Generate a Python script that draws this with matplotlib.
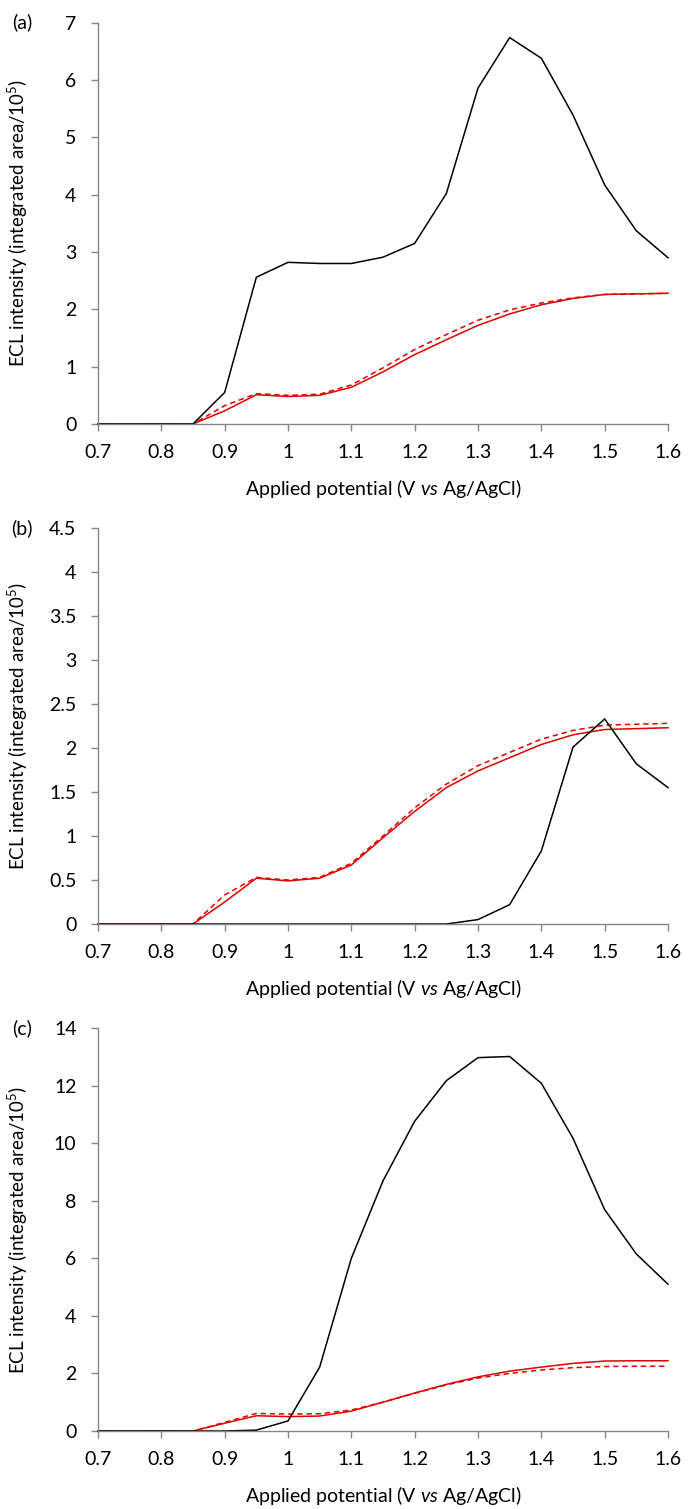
import numpy as np
import matplotlib.pyplot as plt
from matplotlib.ticker import FuncFormatter

plt.rcParams['font.family'] = ['Lato', 'DejaVu Sans']
plt.rcParams['mathtext.fontset'] = 'custom'
plt.rcParams['mathtext.rm'] = 'Lato'
plt.rcParams['mathtext.it'] = 'Lato:italic'

# applied potential (V vs Ag/AgCl)
potential = [0.70, 0.75, 0.80, 0.85, 0.90, 0.95, 1.00, 1.05, 1.10, 1.15,
             1.20, 1.25, 1.30, 1.35, 1.40, 1.45, 1.50, 1.55, 1.60]

# ECL intensity / 1e5
a_black = [0, 0, 0, 0, 0.55, 2.56, 2.82, 2.80, 2.80, 2.91,
           3.15, 4.02, 5.86, 6.74, 6.38, 5.39, 4.17, 3.37, 2.90]
a_red = [0, 0, 0, 0, 0.23, 0.51, 0.48, 0.50, 0.64, 0.91,
         1.21, 1.47, 1.72, 1.92, 2.08, 2.19, 2.26, 2.27, 2.28]
a_red_dash = [0, 0, 0, 0, 0.32, 0.53, 0.50, 0.52, 0.68, 0.98,
              1.30, 1.56, 1.81, 1.99, 2.11, 2.20, 2.26, 2.27, 2.28]

b_black = [0, 0, 0, 0, 0, 0, 0, 0, 0, 0,
           0, 0, 0.05, 0.22, 0.83, 2.01, 2.33, 1.82, 1.55]
b_red = [0, 0, 0, 0, 0.25, 0.52, 0.49, 0.52, 0.67, 0.98,
         1.28, 1.55, 1.74, 1.89, 2.04, 2.15, 2.21, 2.22, 2.23]
b_red_dash = [0, 0, 0, 0, 0.33, 0.53, 0.50, 0.53, 0.69, 1.00,
              1.32, 1.59, 1.80, 1.95, 2.10, 2.20, 2.26, 2.27, 2.28]

c_black = [0, 0, 0, 0, 0, 0.03, 0.35, 2.22, 6.00, 8.69,
           10.76, 12.17, 12.97, 13.01, 12.08, 10.17, 7.69, 6.15, 5.10]
c_red = [0, 0, 0, 0, 0.27, 0.53, 0.50, 0.52, 0.69, 1.00,
         1.32, 1.62, 1.88, 2.08, 2.22, 2.35, 2.43, 2.44, 2.44]
c_red_dash = [0, 0, 0, 0, 0.30, 0.61, 0.59, 0.60, 0.73, 1.00,
              1.31, 1.60, 1.84, 2.00, 2.12, 2.20, 2.24, 2.25, 2.25]

panels = [
    ('(a)', a_black, a_red, a_red_dash, np.arange(0, 7.01, 1), 7),
    ('(b)', b_black, b_red, b_red_dash, np.arange(0, 4.51, 0.5), 4.5),
    ('(c)', c_black, c_red, c_red_dash, np.arange(0, 14.01, 2), 14),
]

W, H = 695, 1509
fig = plt.figure(figsize=(W / 100, H / 100), dpi=100)

left, right = 98, 668
boxes = [(22.7, 424), (528, 924), (1028, 1431)]  # top/bottom in px
grey = '#868686'
red = '#e00000'

fmt = FuncFormatter(lambda v, p: ('%g' % round(v, 2)))

for (name, blk, rs, rd, yt, ymax), (top, bot) in zip(panels, boxes):
    ax = fig.add_axes([left / W, 1 - bot / H, (right - left) / W, (bot - top) / H])
    ax.plot(potential, rd, color=red, lw=1.1, ls=(0, (3.5, 2.5)), clip_on=False)
    ax.plot(potential, rs, color=red, lw=1.1, clip_on=False)
    ax.plot(potential, blk, color='black', lw=1.1, clip_on=False)
    ax.set_xlim(0.7, 1.6)
    ax.set_ylim(0, ymax)
    ax.set_xticks(potential[::2])
    ax.set_yticks(yt)
    ax.xaxis.set_major_formatter(fmt)
    ax.yaxis.set_major_formatter(fmt)
    for s in ['top', 'right']:
        ax.spines[s].set_visible(False)
    for s in ['left', 'bottom']:
        ax.spines[s].set_color(grey)
        ax.spines[s].set_linewidth(1.0)
    ax.tick_params(direction='out', length=5, width=1.0, color=grey,
                   labelsize=14, labelcolor='black')
    ax.tick_params(axis='x', pad=9.5)
    ax.tick_params(axis='y', pad=10.5)
    h = bot - top
    # xlabel anchor is its top edge, ylabel anchor its baseline side
    ax.set_xlabel('Applied potential (V $\\it{vs}$ Ag/AgCl)', fontsize=14)
    ax.xaxis.set_label_coords(0.5, -53 / h)
    ax.set_ylabel('ECL intensity (integrated area/10$^5$)', fontsize=13.5)
    ax.yaxis.set_label_coords(-68 / (right - left), 0.5)
    fig.text(22 / W, 1 - top / H, name, fontsize=14, ha='center', va='center')

fig.savefig('out.png', dpi=100)
